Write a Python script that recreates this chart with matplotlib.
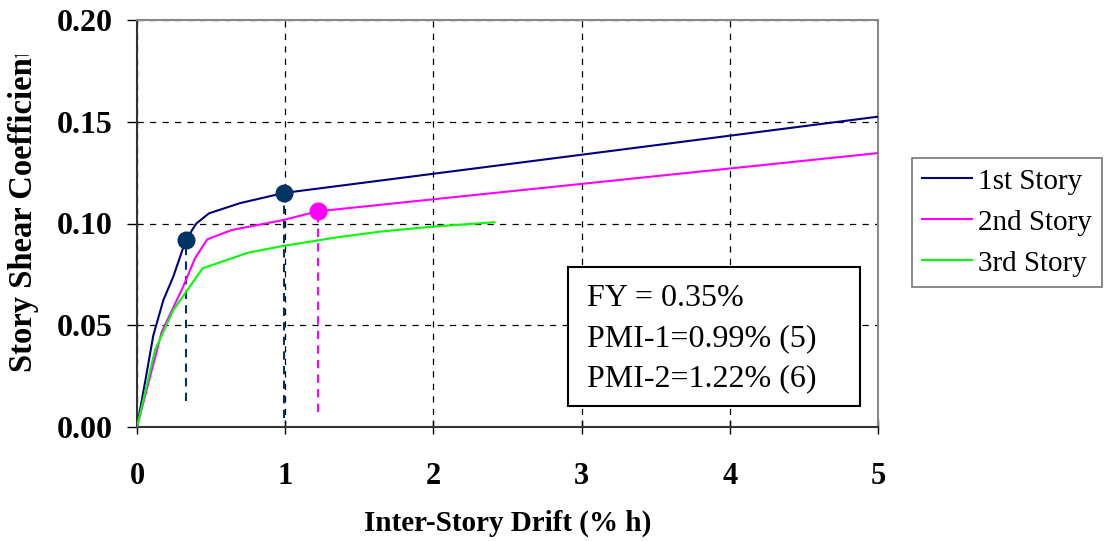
import matplotlib
matplotlib.use("Agg")
import matplotlib.pyplot as plt
from matplotlib.transforms import Bbox
from matplotlib.patches import Rectangle

plt.rcParams['font.family'] = ['Liberation Serif', 'DejaVu Serif']

# Data (inter-story drift %h, story shear coefficient)
x1 = [0.0, 0.065, 0.11, 0.178, 0.245, 0.33, 0.40, 0.486, 0.695, 0.99, 5.0]
y1 = [0.0, 0.0264, 0.045, 0.0624, 0.0739, 0.092, 0.100, 0.105, 0.110, 0.115, 0.1525]
x2 = [0.0, 0.167, 0.312, 0.391, 0.474, 0.639, 0.987, 1.22, 5.0]
y2 = [0.0, 0.0468, 0.069, 0.0829, 0.0922, 0.0968, 0.1017, 0.106, 0.1346]
x3 = [0.0, 0.121, 0.245, 0.443, 0.751, 0.987, 1.35, 1.64, 2.0, 2.41]
y3 = [0.0, 0.0378, 0.0575, 0.078, 0.0857, 0.089, 0.0932, 0.096, 0.0985, 0.1006]
labels = ['1st Story', '2nd Story', '3rd Story']
colors = ['#000080', '#FF00FF', '#00FF00']

# Marked points and their dashed drop lines (x, y, bottom of drop line)
mark_x = [0.33, 0.99, 1.22]
mark_y = [0.092, 0.115, 0.106]
drop_bottom = [0.0128, 0.0044, 0.0074]
mark_colors = ['#003366', '#003366', '#FF00FF']

xticks = [0, 1, 2, 3, 4, 5]
yticks = [0.00, 0.05, 0.10, 0.15, 0.20]
ytick_labels = ['0.00', '0.05', '0.10', '0.15', '0.20']
note_lines = ["FY = 0.35%", "PMI-1=0.99% (5)", "PMI-2=1.22% (6)"]

W, H = 1110, 541
fig = plt.figure(figsize=(W/100, H/100), dpi=100)
ax = fig.add_axes([137/W, 1-427/H, (878-137)/W, (427-20)/H])

for xs, ys, lab, c in zip([x1, x2, x3], [y1, y2, y3], labels, colors):
    ax.plot(xs, ys, color=c, lw=1.5, label=lab, zorder=3)

for mx, my, mb, mc in zip(mark_x, mark_y, drop_bottom, mark_colors):
    ax.plot([mx, mx], [mb, my], color=mc, lw=1.5, ls=(0, (4, 3)), zorder=2)
    ax.plot([mx], [my], 'o', color=mc, ms=12, zorder=4)

ax.set_xlim(0, 5)
ax.set_ylim(0, 0.2)
ax.set_xticks(xticks)
ax.set_xticklabels([str(t) for t in xticks])
ax.set_yticks(yticks)
ax.set_yticklabels(ytick_labels)
ax.grid(True, color='black', ls=(0, (5, 5)), lw=0.9)
ax.tick_params(axis='x', direction='inout', length=10, width=1, pad=20)
ax.tick_params(axis='y', direction='out', length=7.5, width=1, pad=10)
for lab in ax.get_xticklabels():
    lab.set_fontsize(22)
    lab.set_fontweight('bold')
for lab in ax.get_yticklabels():
    lab.set_fontsize(23)
    lab.set_fontweight('bold')
for s in ['top', 'right']:
    ax.spines[s].set_color('#888888')
    ax.spines[s].set_linewidth(1.5)
for s in ['left', 'bottom']:
    ax.spines[s].set_color('#333333')
    ax.spines[s].set_linewidth(1.5)

ax.set_xlabel('Inter-Story Drift (% h)', fontsize=21, fontweight='bold', labelpad=14)
ylab = fig.text(24/W, 1-209/H, 'Story Shear Coefficient', rotation=90,
                fontsize=23.5, fontweight='bold', ha='center', va='center')
ylab.set_clip_box(Bbox.from_extents(0, 0, W, H-55))
ylab.set_clip_on(True)

leg = fig.legend(loc='upper left', bbox_to_anchor=(912/W, 1-158/H),
                 fontsize=21, frameon=True, fancybox=False, handlelength=1.7,
                 borderpad=0.35, labelspacing=0.5, handletextpad=0.2,
                 borderaxespad=0)
leg.get_frame().set_edgecolor('#555555')
leg.get_frame().set_linewidth(1.2)

# Annotation box (figure pixel placement)
fig.patches.append(Rectangle((568/W, 1-406/H), (860-568)/W, (406-267)/H,
                             transform=fig.transFigure, fc='white', ec='black',
                             lw=1.5, zorder=5))
for i, line in enumerate(note_lines):
    fig.text(587/W, 1-(299+40*i)/H, line, fontsize=23, ha='left', va='center',
             zorder=6)

fig.savefig('out.png', dpi=100)
